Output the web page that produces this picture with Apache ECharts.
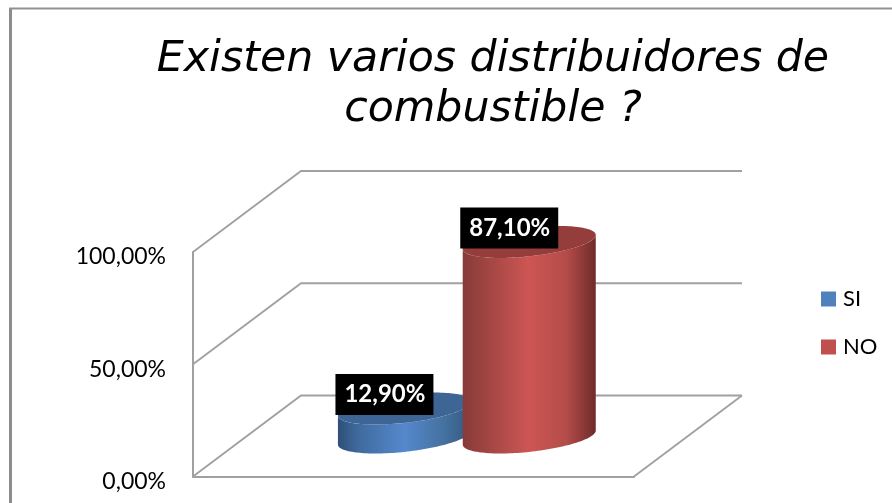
<!DOCTYPE html>
<html><head><meta charset="utf-8">
<style>html,body{margin:0;padding:0;background:#fff}#c{width:892px;height:503px}</style>
<script src="https://cdn.jsdelivr.net/npm/echarts@6/dist/echarts.min.js"></script>
</head><body><div id="c"></div>
<script>
const titleLines = ['Existen varios distribuidores de', 'combustible ?'];
const categories = ['Existen varios distribuidores de combustible ?'];
const siValues = [12.9];
const noValues = [87.1];
const siLabels = ['12,90%'];
const noLabels = ['87,10%'];
const yTicks = [0, 50, 100];

const chart = echarts.init(document.getElementById('c'));
const depth = {dx: 108, dy: 81};
const R = {a: 66.9, b: 14.3, theta: -6.3 * Math.PI / 180};

function ell(cx, cy, t) {
  const c = Math.cos(R.theta), s = Math.sin(R.theta);
  const u = R.a * Math.cos(t), v = R.b * Math.sin(t);
  return [cx + u * c - v * s, cy + u * s + v * c];
}
function grad(stops) {
  return {type: 'linear', x: 0, y: 0, x2: 1, y2: 0,
    colorStops: stops.map(s => ({offset: s[0], color: s[1]}))};
}
function cylinder(side, topCol, stops, labels) {
  return function (params, api) {
    const band = api.size([1, 0])[0];
    const x = api.coord([api.value(0), 0])[0] + side * band + depth.dx / 2;
    const base = api.coord([0, 0])[1] - depth.dy / 2 + 1.5;
    const h = api.coord([0, 0])[1] - api.coord([0, api.value(1)])[1];
    const top = base - h;
    const tL = Math.atan2(-R.b * Math.sin(R.theta), R.a * Math.cos(R.theta));
    const body = [];
    const n = 72;
    for (let i = 0; i <= n; i++) body.push(ell(x, base, tL + Math.PI * i / n));
    for (let i = n; i >= 0; i--) body.push(ell(x, top, tL + Math.PI * i / n));
    const cap = [];
    for (let i = 0; i < 2 * n; i++) cap.push(ell(x, top, Math.PI * i / n));
    return {type: 'group', children: [
      {type: 'polygon', shape: {points: body}, style: {fill: grad(stops)}},
      {type: 'polygon', shape: {points: cap}, style: {fill: topCol}},
      {type: 'text', x: x - 20, y: top - 14, style: {
        text: labels[params.dataIndex], fill: '#fff', backgroundColor: '#000',
        font: 'bold 24px Lato, sans-serif', lineHeight: 24, align: 'center', verticalAlign: 'middle',
        padding: [9, 8, 8, 9]}}
    ]};
  };
}
const wall = function (params, api) {
  const band = api.size([1, 0])[0];
  const c0 = api.coord([0, api.value(0)]);
  const xL = c0[0] - band / 2, xR = c0[0] + band / 2, y = c0[1];
  const style = {stroke: '#a0a0a0', lineWidth: 1.8, fill: 'none'};
  const kids = [{type: 'polyline', shape: {points: [[xL, y], [xL + depth.dx, y - depth.dy], [xR + depth.dx, y - depth.dy]]}, style}];
  if (params.dataIndex === 0) kids.push({type: 'line', shape: {x1: xR, y1: y, x2: xR + depth.dx, y2: y - depth.dy}, style});
  return {type: 'group', children: kids};
};

chart.setOption({
  animation: false,
  backgroundColor: '#fff',
  title: {
    text: titleLines.join('\n'), left: 488, top: 30, textAlign: 'center',
    textStyle: {fontFamily: 'DejaVu Sans', fontStyle: 'italic', fontWeight: 'normal', fontSize: 42.7, lineHeight: 50, color: '#000'}
  },
  legend: {
    data: ['SI', 'NO'], orient: 'vertical', left: 821, top: 288, padding: 0, itemWidth: 15, itemHeight: 15, itemGap: 26,
    icon: 'rect', textStyle: {fontFamily: 'Lato', fontSize: 22, color: '#000', padding: [4, 0, 0, 2]}
  },
  grid: {left: 193, top: 252, width: 441, height: 224.5},
  xAxis: {type: 'category', data: categories, axisLabel: {show: false}, axisTick: {show: false},
    axisLine: {lineStyle: {color: '#a0a0a0', width: 2}}},
  yAxis: {type: 'value', min: 0, max: 100, interval: 50, splitLine: {show: false}, axisTick: {show: false},
    axisLine: {show: true, lineStyle: {color: '#a0a0a0', width: 2}},
    axisLabel: {margin: 27, fontFamily: 'Lato', fontSize: 23, color: '#000',
      formatter: v => v.toFixed(2).replace('.', ',') + '%', verticalAlign: 'top', lineHeight: 10}},
  graphic: [
    {type: 'line', shape: {x1: 10.5, y1: 8, x2: 10.5, y2: 503}, style: {stroke: '#8c8c8c', lineWidth: 3}},
    {type: 'line', shape: {x1: 9, y1: 8.5, x2: 892, y2: 8.5}, style: {stroke: '#919191', lineWidth: 2}}
  ],
  series: [
    {type: 'custom', name: 'wall', silent: true, data: yTicks.map(v => [v]), encode: {y: 0}, renderItem: wall, z: 1},
    {type: 'custom', name: 'SI', itemStyle: {color: '#4f81bd'}, data: siValues.map((v, i) => [i, v]), encode: {x: 0, y: 1}, z: 2,
      renderItem: cylinder(-0.143, '#3d6596', [[0, '#2f4f76'], [0.15, '#3f6a9e'], [0.5, '#5588cc'], [0.8, '#44719f'], [1, '#35587f']], siLabels)},
    {type: 'custom', name: 'NO', itemStyle: {color: '#c0504d'}, data: noValues.map((v, i) => [i, v]), encode: {x: 0, y: 1}, z: 3,
      renderItem: cylinder(0.14, '#943d3a', [[0, '#873a38'], [0.18, '#a04543'], [0.5, '#cd5653'], [0.78, '#b44c49'], [1, '#6f2b2a']], noLabels)}
  ]
});
</script></body></html>
